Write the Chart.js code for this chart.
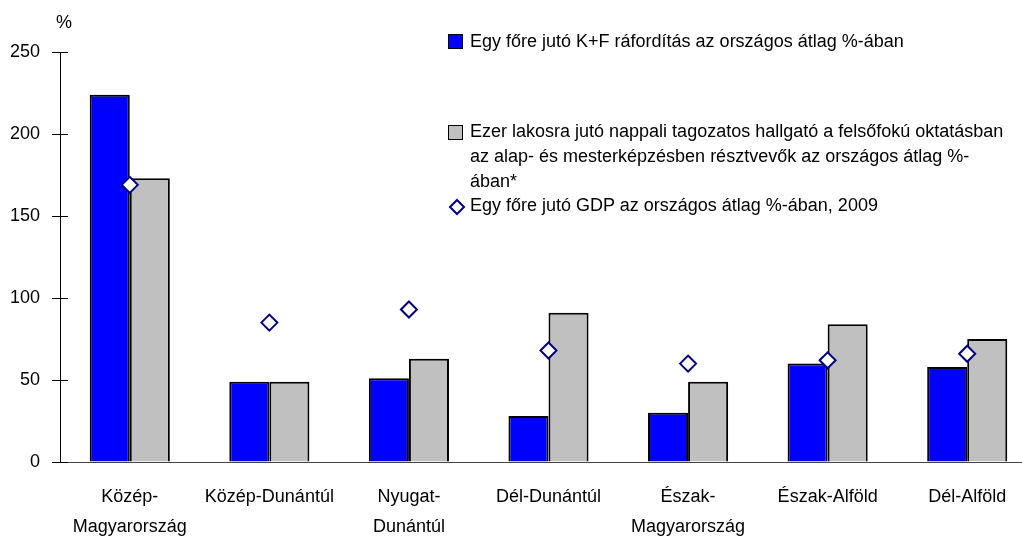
<!DOCTYPE html>
<html>
<head>
<meta charset="utf-8">
<script src="https://cdn.jsdelivr.net/npm/chart.js@4/dist/chart.umd.min.js"></script>
<style>
	body { margin: 0; width: 1022px; height: 545px; overflow: hidden; background: #fff; font-family: "Liberation Sans", Arial, sans-serif; }
	#wrap { position: relative; width: 1047px; height: 545px; }
	.txt { position: absolute; font-size: 18px; color: #000; white-space: nowrap; line-height: 25px; }
	.box { position: absolute; width: 13px; height: 13px; border: 1px solid #000; }
</style>
</head>
<body>
<div id="wrap">
	<canvas id="myChart"></canvas>
	<div class="txt" style="left:56px; top:10px;">%</div>

	<div class="box" style="left:448px; top:34px; background:#0000ff;"></div>
	<div class="txt" style="left:470px; top:29px;">Egy főre jutó K+F ráfordítás az országos átlag %-ában</div>

	<div class="box" style="left:448px; top:125px; background:#c0c0c0;"></div>
	<div class="txt" style="left:470px; top:119px;">Ezer lakosra jutó nappali tagozatos hallgató a felsőfokú oktatásban<br>az alap- és mesterképzésben résztvevők az országos átlag %-<br>ában*</div>

	<svg style="position:absolute; left:448px; top:198px;" width="18" height="18"><path d="M9 2 L16 9 L9 16 L2 9 Z" fill="#fff" stroke="#000080" stroke-width="2"/></svg>
	<div class="txt" style="left:470px; top:193px;">Egy főre jutó GDP az országos átlag %-ában, 2009</div>
</div>

<script>
// adatok
var kategoriak = [
	['Közép-', 'Magyarország'],
	'Közép-Dunántúl',
	['Nyugat-', 'Dunántúl'],
	'Dél-Dunántúl',
	['Észak-', 'Magyarország'],
	'Észak-Alföld',
	'Dél-Alföld'
];
var kfRaforditas = [224, 49, 51, 28, 30, 60, 58];
var hallgatok = [173, 49, 63, 91, 49, 84, 75];
var gdp = [169, 85, 93, 68, 60, 62, 66];
var yTicks = [0, 50, 100, 150, 200, 250];

var myChart = null;

var chart = {
	startUp: function () {
		chart.draw();
	},  // end - startUp

	// rovatkak a tengely belso oldalan is
	tickInside: {
		id: 'tickInside',
		afterDraw: function (c) {
			var y = c.scales.y;
			var ctx = c.ctx;
			ctx.save();
			ctx.strokeStyle = '#000';
			ctx.lineWidth = 1;
			for (var i = 0; i < y.ticks.length; i++) {
				var py = Math.round(y.getPixelForValue(y.ticks[i].value)) + 0.5;
				ctx.beginPath();
				ctx.moveTo(y.right, py);
				ctx.lineTo(y.right + 8, py);
				ctx.stroke();
			}
			ctx.restore();
		}
	}, // end - tickInside

	draw: function () {
		var font = { family: '"Liberation Sans", Arial, sans-serif', size: 18 };

		myChart = new Chart('myChart', {
			type: 'bar',
			data: {
				labels: kategoriak,
				datasets: [{
					type: 'line',
					label: 'Egy főre jutó GDP az országos átlag %-ában, 2009',
					data: gdp,
					showLine: false,
					pointStyle: 'rectRot',
					pointRadius: 8,
					pointBorderWidth: 2,
					pointBorderColor: '#000080',
					pointBackgroundColor: '#ffffff',
					order: 0
				}, {
					label: 'Egy főre jutó K+F ráfordítás az országos átlag %-ában',
					data: kfRaforditas,
					backgroundColor: '#0000ff',
					borderColor: '#000000',
					borderWidth: 2,
					order: 1
				}, {
					label: 'Ezer lakosra jutó nappali tagozatos hallgató',
					data: hallgatok,
					backgroundColor: '#c0c0c0',
					borderColor: '#000000',
					borderWidth: 2,
					order: 1
				}]
			},
			options: {
				responsive: true,
				maintainAspectRatio: false,
				animation: false,
				layout: { padding: { top: 52, right: 4, left: 0, bottom: 0 } },
				datasets: {
					bar: { barPercentage: 1, categoryPercentage: 0.574 }
				},
				plugins: {
					legend: { display: false },
					tooltip: { enabled: false }
				},
				scales: {
					x: {
						grid: { display: false },
						border: { display: true, color: '#444', width: 1 },
						ticks: { font: Object.assign({ lineHeight: 1.667 }, font), color: '#000', padding: 12, maxRotation: 0, autoSkip: false },
						afterFit: function (scale) { scale.height = 83; }
					},
					y: {
						min: 0,
						max: 250,
						afterBuildTicks: function (scale) {
							scale.ticks = yTicks.map(function (v) { return { value: v }; });
						},
						grid: { drawOnChartArea: false, drawTicks: true, tickLength: 8, color: '#000' },
						border: { display: true, color: '#000', width: 1 },
						ticks: { font: font, color: '#000', padding: 12 },
						afterFit: function (scale) { scale.width = 60; }
					}
				}
			},
			plugins: [chart.tickInside]
		});
	} // end - draw
};

chart.startUp();
</script>
</body>
</html>
